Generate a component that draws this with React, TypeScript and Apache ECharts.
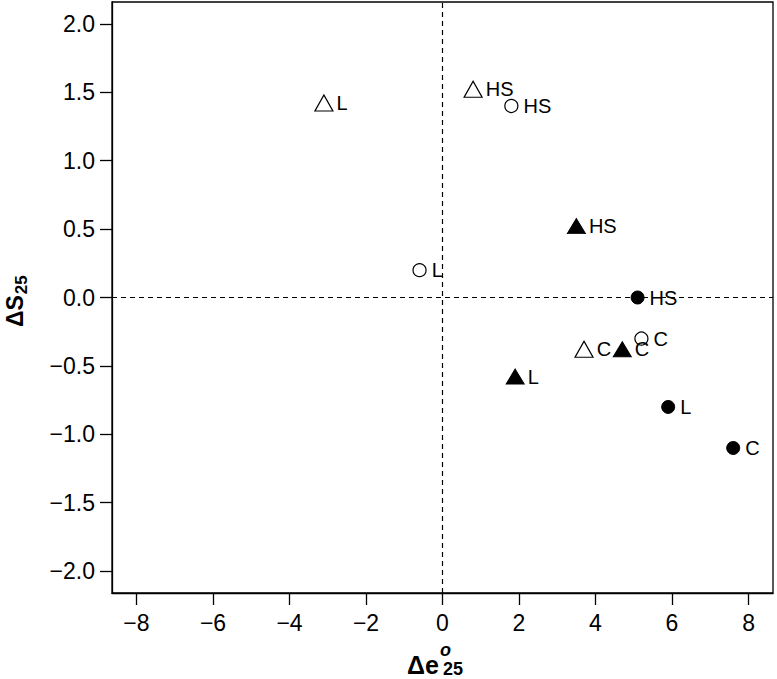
import React, { useEffect, useRef } from "react";
import * as echarts from "echarts";

const FONT = '"Liberation Sans", Arial, Helvetica, sans-serif';

// Tick labels
const X_TICKS = [-8, -6, -4, -2, 0, 2, 4, 6, 8];
const Y_TICKS = [-2, -1.5, -1, -0.5, 0, 0.5, 1, 1.5, 2];

// Open circles
const openCircleX = [-0.6, 1.8, 5.2];
const openCircleY = [0.2, 1.4, -0.3];
const openCircleLabels = ["L", "HS", "C"];

// Filled circles
const filledCircleX = [5.1, 5.9, 7.6];
const filledCircleY = [0.0, -0.8, -1.1];
const filledCircleLabels = ["HS", "L", "C"];

// Open triangles
const openTriX = [-3.1, 0.8, 3.7];
const openTriY = [1.4, 1.5, -0.4];
const openTriLabels = ["L", "HS", "C"];

// Filled triangles
const filledTriX = [3.5, 4.7, 1.9];
const filledTriY = [0.5, -0.4, -0.6];
const filledTriLabels = ["HS", "C", "L"];

function measure(text: string, font: string): number {
  const ctx = document.createElement("canvas").getContext("2d");
  if (!ctx) return text.length * 12;
  ctx.font = font;
  return ctx.measureText(text).width;
}

const fmtMinus = (s: string) => s.replace("-", "\u2212");

export default function App() {
  const ref = useRef<HTMLDivElement>(null);

  useEffect(() => {
    if (!ref.current) return;
    const chart = echarts.init(ref.current, null, { renderer: "svg" });

    const mainFont = `bold 25px ${FONT}`;
    const subFont = `bold 18px ${FONT}`;
    const supFont = `italic bold 18px ${FONT}`;
    const yMainFont = `bold 23px ${FONT}`;
    const ySubFont = `bold 17px ${FONT}`;
    const wYMain = measure("\u0394S", yMainFont);

    const labelCfg = {
      show: true,
      position: "right" as const,
      color: "#000",
      opacity: 1,
      fontSize: 20,
      fontFamily: FONT,
      formatter: (p: any) => p.value[2],
    };

    const mk = (xs: number[], ys: number[], ls: string[]) =>
      xs.map((x, i) => [x, ys[i], ls[i]]);

    const option: any = {
      animation: false,
      backgroundColor: "#fff",
      grid: {
        left: 112,
        right: 4,
        top: 2,
        bottom: 86,
        show: true,
        borderColor: "#000",
        borderWidth: 1.3,
        backgroundColor: "transparent",
      },
      xAxis: {
        type: "value",
        min: -8.64,
        max: 8.64,
        axisLine: { show: true, onZero: false, lineStyle: { color: "#000", width: 1.3 } },
        axisTick: {
          show: true,
          inside: false,
          length: 12,
          customValues: X_TICKS,
          lineStyle: { color: "#000", width: 1.3 },
        },
        axisLabel: {
          customValues: X_TICKS,
          margin: 18,
          color: "#000",
          fontSize: 23,
          fontFamily: FONT,
          formatter: (v: number) => fmtMinus(String(v)),
        },
        splitLine: { show: false },
      },
      yAxis: {
        type: "value",
        min: -2.16,
        max: 2.16,
        axisLine: { show: true, onZero: false, lineStyle: { color: "#000", width: 1.3 } },
        axisTick: {
          show: true,
          inside: false,
          length: 12,
          customValues: Y_TICKS,
          lineStyle: { color: "#000", width: 1.3 },
        },
        axisLabel: {
          customValues: Y_TICKS,
          margin: 17,
          color: "#000",
          fontSize: 23,
          fontFamily: FONT,
          formatter: (v: number) => fmtMinus(v.toFixed(1)),
        },
        splitLine: { show: false },
      },
      series: [
        {
          type: "scatter",
          name: "openCircle",
          data: mk(openCircleX, openCircleY, openCircleLabels),
          symbol: "circle",
          symbolSize: 13,
          itemStyle: { color: "rgba(0,0,0,0)", borderColor: "#000", borderWidth: 1.2, opacity: 1 },
          label: { ...labelCfg, distance: 5 },
          emphasis: { disabled: true },
          markLine: {
            silent: true,
            symbol: ["none", "none"],
            label: { show: false },
            lineStyle: { color: "#000", type: [5, 4], width: 1.2, opacity: 1 },
            emphasis: { disabled: true },
            data: [{ xAxis: 0 }, { yAxis: 0 }],
          },
        },
        {
          type: "scatter",
          name: "filledCircle",
          data: mk(filledCircleX, filledCircleY, filledCircleLabels),
          symbol: "circle",
          symbolSize: 13,
          itemStyle: { color: "#000", borderColor: "#000", borderWidth: 1, opacity: 1 },
          label: { ...labelCfg, distance: 5 },
          emphasis: { disabled: true },
        },
        {
          type: "scatter",
          name: "openTriangle",
          data: mk(openTriX, openTriY, openTriLabels),
          symbol: "triangle",
          symbolSize: [18, 16],
          symbolOffset: [0, -3],
          itemStyle: { color: "rgba(0,0,0,0)", borderColor: "#000", borderWidth: 1.2, opacity: 1 },
          label: { ...labelCfg, distance: 3 },
          emphasis: { disabled: true },
        },
        {
          type: "scatter",
          name: "filledTriangle",
          data: mk(filledTriX, filledTriY, filledTriLabels),
          symbol: "triangle",
          symbolSize: [18, 15],
          symbolOffset: [0, -3],
          itemStyle: { color: "#000", borderColor: "#000", borderWidth: 1, opacity: 1 },
          label: { ...labelCfg, distance: 3 },
          emphasis: { disabled: true },
        },
      ],
      graphic: [
        // x-axis title: Δe^o_25
        {
          type: "text",
          x: 407,
          y: 665,
          style: { text: "\u0394e", font: mainFont, fill: "#000", textAlign: "left", textVerticalAlign: "middle" },
        },
        {
          type: "text",
          x: 440,
          y: 650,
          style: { text: "o", font: supFont, fill: "#000", textAlign: "left", textVerticalAlign: "middle" },
        },
        {
          type: "text",
          x: 443,
          y: 669,
          style: { text: "25", font: subFont, fill: "#000", textAlign: "left", textVerticalAlign: "middle" },
        },
        // y-axis title: ΔS_25 rotated
        {
          type: "group",
          x: 23,
          y: 327,
          rotation: Math.PI / 2,
          children: [
            {
              type: "text",
              x: 0,
              y: -8,
              style: { text: "\u0394S", font: yMainFont, fill: "#000", textAlign: "left", textVerticalAlign: "middle" },
            },
            {
              type: "text",
              x: wYMain + 1,
              y: -1.5,
              style: { text: "25", font: ySubFont, fill: "#000", textAlign: "left", textVerticalAlign: "middle" },
            },
          ],
        },
      ],
    };

    chart.setOption(option);
    return () => chart.dispose();
  }, []);

  return (
    <div
      ref={ref}
      style={{ position: "fixed", left: 0, top: 0, width: 777, height: 679, background: "#fff" }}
    />
  );
}
